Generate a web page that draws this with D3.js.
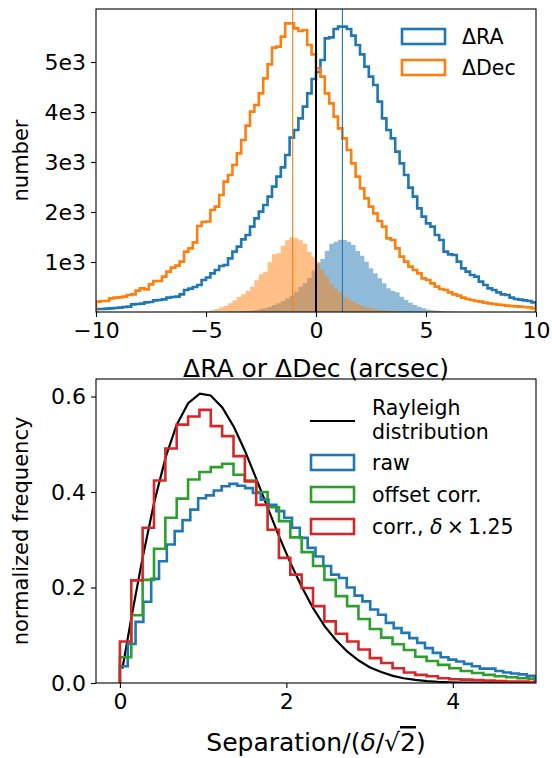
<!DOCTYPE html>
<html><head><meta charset="utf-8">
<script src="https://cdn.jsdelivr.net/npm/d3@7"></script>
<style>
html,body{margin:0;padding:0;background:#fff;}
text{font-family:"DejaVu Sans",sans-serif;fill:#000;}
</style></head>
<body><svg id="chart" width="552" height="758"></svg>
<script>
// ---------------- DATA ----------------
// Top panel: histograms of offsets, bins of 0.2 arcsec from -10 to 10
const offsetBinStart = -10, offsetBinWidth = 0.2;
const dRA = [60,60,67,73,80,87,100,107,153,160,167,193,200,233,240,253,287,300,307,353,440,467,500,540,640,
 690,773,840,920,940,1073,1207,1307,1453,1540,1707,1873,2007,2140,2307,2507,2707,2893,3140,3487,3640,3873,4107,4373,4660,
 4800,5040,5473,5493,5660,5707,5707,5660,5527,5340,5153,4907,4707,4540,4207,3873,3640,3473,3207,2973,2740,2487,2307,2073,1907,
 1773,1707,1540,1440,1207,1153,1140,1007,873,807,740,707,607,540,473,440,393,353,340,287,260,247,233,220,193];
const dDec = [207,220,220,273,287,293,307,340,353,427,473,453,553,620,620,707,807,887,927,1007,1207,1273,1393,1720,1800,
 1810,2040,2107,2340,2607,2740,2940,3173,3440,3727,4007,4140,4373,4673,4953,5287,5307,5507,5773,5773,5673,5620,5640,5340,5153,
 4873,4707,4373,4173,3907,3673,3473,3240,2973,2707,2473,2273,2107,1973,1820,1707,1473,1440,1273,1107,1007,907,840,773,673,
 640,573,507,460,440,393,353,327,287,260,240,220,207,187,173,160,147,140,127,120,113,107,100,93,73];
const dRAfill = [0,0,0,0,0,0,0,0,0,0,0,0,0,0,0,0,0,0,0,0,0,0,0,0,0,
 0,0,0,0,0,0,0,0,13,20,27,40,60,73,107,140,173,220,273,327,407,507,573,680,830,
 973,1060,1220,1367,1407,1447,1440,1407,1340,1220,1127,1007,873,773,673,573,473,420,393,307,240,187,140,107,73,
 50,35,25,18,12,8,5,3,2,0,0,0,0,0,0,0,0,0,0,0,0,0,0,0,0];
const dDecfill = [0,0,0,0,0,0,0,0,0,0,0,0,0,0,0,2,2,3,4,5,7,9,11,14,17,
 20,33,60,93,127,173,233,300,353,420,507,633,753,807,993,1153,1173,1327,1433,1493,1473,1433,1367,1207,1107,
 1007,840,707,553,460,393,307,253,207,160,120,93,73,60,47,33,27,20,13,7,5,3,2,0,0,
 0,0,0,0,0,0,0,0,0,0,0,0,0,0,0,0,0,0,0,0,0,0,0,0,0];
const medianRA = 1.2, medianDec = -1.06, zeroLine = 0;
const topXTicks = [-10,-5,0,5,10];
const topYTicks = [1000,2000,3000,4000,5000];
const topYTickLabels = ["1e3","2e3","3e3","4e3","5e3"];

// Bottom panel: normalized separation histograms
const rawBinWidth = 0.094, corrBinWidth = 0.1365;
const rawHist = [0.035,0.082,0.128,0.17,0.218,0.255,0.29,0.318,0.341,0.363,0.387,0.393,0.403,0.412,0.417,0.413,0.408,0.398,0.384,0.373,0.36,0.346,0.325,0.304,0.283,0.265,0.245,0.227,0.22,0.2,0.183,0.171,0.154,0.143,0.126,0.115,0.105,0.094,0.084,0.073,0.063,0.054,0.049,0.045,0.04,0.035,0.03,0.03,0.025,0.022,0.02,0.018,0.015];
const offsetCorrHist = [0.054,0.142,0.216,0.281,0.346,0.386,0.426,0.442,0.452,0.459,0.436,0.424,0.4,0.368,0.339,0.305,0.274,0.245,0.216,0.182,0.161,0.134,0.113,0.095,0.081,0.069,0.055,0.046,0.038,0.031,0.025,0.021,0.017,0.014,0.012,0.01,0.009];
const scaledCorrHist = [0.087,0.215,0.325,0.424,0.491,0.541,0.558,0.572,0.538,0.517,0.475,0.422,0.373,0.321,0.262,0.227,0.199,0.161,0.129,0.103,0.087,0.07,0.052,0.042,0.031,0.022,0.017,0.014,0.01,0.008,0.007,0.006,0.005,0.004,0.003,0.003,0.002];
const rayleighX = [0.03,0.14,0.27,0.41,0.55,0.68,0.82,0.96,1.09,1.23,1.37,1.50,1.64,1.78,1.91,2.05,2.18,2.32,2.46,2.59,2.73,2.87,3.00,3.14,3.28,3.41,3.55,3.69,3.82,3.96,4.10,4.5,5.0];
const rayleighY = [0.030,0.139,0.260,0.377,0.473,0.540,0.586,0.606,0.602,0.577,0.536,0.487,0.427,0.365,0.308,0.251,0.203,0.157,0.119,0.091,0.066,0.047,0.033,0.023,0.015,0.010,0.0065,0.0041,0.0026,0.0016,0.0009,0.0002,0.0];
const botXTicks = [0,2,4];
const botYTicks = [0,0.2,0.4,0.6];

// ---------------- DRAW ----------------
const C = {blue:"#1f77b4", orange:"#ff7f0e", green:"#2ca02c", red:"#d62728"};
const svg = d3.select("#chart");
const L = 96, R = 536;
const tickFont = "22px", labelFont = "21px", xLabelFont = "25px", legFont = "20.5px";

function stepPoints(vals, start, width){
  const pts = [[start, 0]];
  vals.forEach((v,i)=>{ pts.push([start+i*width, v]); pts.push([start+(i+1)*width, v]); });
  pts.push([start+vals.length*width, 0]);
  return pts;
}

// ---- top panel ----
const tT = 9, tB = 312;
const x1 = d3.scaleLinear().domain([-10,10]).range([L,R]);
const y1 = d3.scaleLinear().domain([0,6060]).range([tB,tT]);
const line1 = d3.line().x(d=>x1(d[0])).y(d=>y1(d[1]));
const area1 = d3.area().x(d=>x1(d[0])).y0(y1(0)).y1(d=>y1(d[1]));

svg.append("clipPath").attr("id","clipTop").append("rect")
  .attr("x",L).attr("y",tT).attr("width",R-L).attr("height",tB-tT);
const gTop = svg.append("g").attr("clip-path","url(#clipTop)");

gTop.append("path").attr("d",line1(stepPoints(dRA,offsetBinStart,offsetBinWidth)))
  .attr("fill","none").attr("stroke",C.blue).attr("stroke-width",2.6).attr("stroke-linejoin","miter");
gTop.append("path").attr("d",line1(stepPoints(dDec,offsetBinStart,offsetBinWidth)))
  .attr("fill","none").attr("stroke",C.orange).attr("stroke-width",2.6).attr("stroke-linejoin","miter");
gTop.append("path").attr("d",area1(stepPoints(dRAfill,offsetBinStart,offsetBinWidth)))
  .attr("fill",C.blue).attr("fill-opacity",0.5);
gTop.append("path").attr("d",area1(stepPoints(dDecfill,offsetBinStart,offsetBinWidth)))
  .attr("fill",C.orange).attr("fill-opacity",0.5);
[[medianDec,C.orange,1.1],[medianRA,C.blue,1.1],[zeroLine,"#000",2]].forEach(([v,c,w])=>{
  gTop.append("line").attr("x1",x1(v)).attr("x2",x1(v)).attr("y1",tT).attr("y2",tB)
    .attr("stroke",c).attr("stroke-width",w);
});

function frame(top,bottom){
  svg.append("rect").attr("x",L).attr("y",top).attr("width",R-L).attr("height",bottom-top)
    .attr("fill","none").attr("stroke","#000").attr("stroke-width",1.1);
}
frame(tT,tB);

const axT = svg.append("g").attr("transform",`translate(0,${tB})`)
  .call(d3.axisBottom(x1).tickValues(topXTicks).tickSize(5).tickPadding(5)
    .tickFormat(d=>d<0?"\u2212"+Math.abs(d):String(d)));
const ayT = svg.append("g").attr("transform",`translate(${L},0)`)
  .call(d3.axisLeft(y1).tickValues(topYTicks).tickSize(5).tickPadding(5)
    .tickFormat((d,i)=>topYTickLabels[i]));

// ---- bottom panel ----
const bT = 379, bB = 683;
const x2 = d3.scaleLinear().domain([-0.2875,5.0]).range([L,R]);
const y2 = d3.scaleLinear().domain([0,0.6366]).range([bB,bT]);
const line2 = d3.line().x(d=>x2(d[0])).y(d=>y2(d[1]));
svg.append("clipPath").attr("id","clipBot").append("rect")
  .attr("x",L).attr("y",bT).attr("width",R-L).attr("height",bB-bT);
const gBot = svg.append("g").attr("clip-path","url(#clipBot)");
gBot.append("path").attr("d",line2(rayleighX.map((x,i)=>[x,rayleighY[i]])))
  .attr("fill","none").attr("stroke","#000").attr("stroke-width",2.2);
[[rawHist,rawBinWidth,C.blue],[offsetCorrHist,corrBinWidth,C.green],[scaledCorrHist,corrBinWidth,C.red]].forEach(([v,w,c])=>{
  gBot.append("path").attr("d",line2(stepPoints(v,0,w)))
    .attr("fill","none").attr("stroke",c).attr("stroke-width",2.6).attr("stroke-linejoin","miter");
});
frame(bT,bB);
const axB = svg.append("g").attr("transform",`translate(0,${bB})`)
  .call(d3.axisBottom(x2).tickValues(botXTicks).tickSize(5).tickPadding(5).tickFormat(d3.format("d")));
const ayB = svg.append("g").attr("transform",`translate(${L},0)`)
  .call(d3.axisLeft(y2).tickValues(botYTicks).tickSize(5).tickPadding(5).tickFormat(d3.format(".1f")));

[axT,ayT,axB,ayB].forEach(g=>{
  g.select(".domain").remove();
  g.selectAll(".tick line").attr("stroke","#000").attr("stroke-width",1.1);
  g.selectAll(".tick text").style("font-size",tickFont).style("font-family","DejaVu Sans").attr("fill","#000");
});
[axT,axB].forEach(g=>g.selectAll(".tick text").attr("dy","0.71em"));

// axis labels
svg.append("text").attr("x",(L+R)/2).attr("y",377).attr("text-anchor","middle")
  .style("font-size",xLabelFont).text("\u0394RA or \u0394Dec (arcsec)");
const xl2 = svg.append("text").attr("x",(L+R)/2).attr("y",751).attr("text-anchor","middle").style("font-size",xLabelFont);
xl2.append("tspan").text("Separation/(");
xl2.append("tspan").style("font-style","italic").text("\u03b4");
xl2.append("tspan").text("/\u221a");
xl2.append("tspan").style("text-decoration","overline").text("2");
xl2.append("tspan").text(")");
svg.append("text").attr("transform",`translate(28,${(tT+tB)/2}) rotate(-90)`).attr("text-anchor","middle")
  .style("font-size",labelFont).text("number");
svg.append("text").attr("transform",`translate(28,${(bT+bB)/2}) rotate(-90)`).attr("text-anchor","middle")
  .style("font-size",labelFont).text("normalized frequency");

// legends
const legTop = [["\u0394RA",C.blue],["\u0394Dec",C.orange]];
legTop.forEach(([t,c],i)=>{
  const cy = 36.5 + i*31;
  svg.append("rect").attr("x",402).attr("y",cy-7.5).attr("width",43).attr("height",15)
    .attr("fill","none").attr("stroke",c).attr("stroke-width",2.6);
  svg.append("text").attr("x",462).attr("y",cy+7.3).style("font-size",legFont).text(t);
});
svg.append("line").attr("x1",310).attr("x2",355).attr("y1",421).attr("y2",421).attr("stroke","#000").attr("stroke-width",2.2);
svg.append("text").attr("x",372).attr("y",414.5).style("font-size",legFont).text("Rayleigh");
svg.append("text").attr("x",372).attr("y",439).style("font-size",legFont).text("distribution");
const legBot = [["raw",C.blue],["offset corr.",C.green],["corr., ",C.red]];
legBot.forEach(([t,c],i)=>{
  const cy = 462.5 + i*32;
  svg.append("rect").attr("x",311).attr("y",cy-7.5).attr("width",43).attr("height",15)
    .attr("fill","none").attr("stroke",c).attr("stroke-width",2.6);
  const tx = svg.append("text").attr("x",372).attr("y",cy+7.3).style("font-size",legFont);
  tx.append("tspan").text(t);
  if(i===2){
    tx.append("tspan").style("font-style","italic").text("\u03b4");
    tx.append("tspan").text("\u2009\u00d7\u20091.25");
  }
});
</script></body></html>
